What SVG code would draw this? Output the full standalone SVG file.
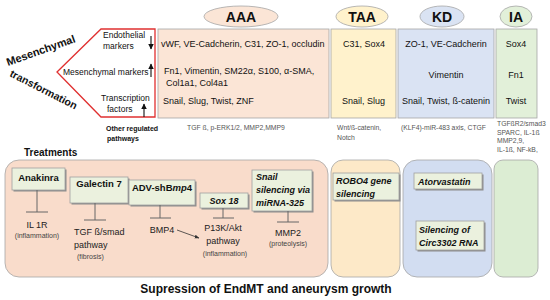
<svg xmlns="http://www.w3.org/2000/svg" width="550" height="300" viewBox="0 0 550 300">
<defs>
<style>
text{font-family:"Liberation Sans",Arial,sans-serif;fill:#111}
.c{font-size:9px}
.p{font-size:8.5px}
.s{font-size:6.8px;fill:#555}
.h{font-size:14px;font-weight:bold;text-anchor:middle}
.box{stroke:#a6a6a6;stroke-width:0.8}
.lb{font-size:9px;text-anchor:middle;fill:#222}
.sm{font-size:7px;text-anchor:middle;fill:#444}
.st{text-anchor:start}
.mid{text-anchor:middle}
.tb{fill:#ebf1de;stroke:#a0a0a0;stroke-width:0.8}
.sh{fill:#8c8c8c}
.tt{font-size:9.5px;font-weight:bold}
.it{font-size:9px;font-weight:bold;font-style:italic}
.bar{stroke:#666;stroke-width:1;fill:none}
.ar{stroke:#111;stroke-width:1.1;fill:none}
</style>
<marker id="ah" viewBox="0 0 10 10" refX="9" refY="5" markerWidth="5" markerHeight="5" orient="auto"><path d="M0,0L10,5L0,10z" fill="#111"/></marker>
<marker id="ah2" viewBox="0 0 10 10" refX="9" refY="5" markerWidth="6" markerHeight="6" orient="auto"><path d="M0,1L10,5L0,9z" fill="#333"/></marker>
</defs>

<g id="side-labels">
<text x="8" y="66" transform="rotate(-19.5 8 66)" style="font-size:11px;font-weight:bold">Mesenchymal</text>
<text x="9" y="76" transform="rotate(27 9 76)" style="font-size:10.5px;font-weight:bold">transformation</text>
</g>

<g id="pentagon">
<polygon points="57,72 101,29 155,29 155,117 101,117" fill="#fff" stroke="#e03030" stroke-width="1.3"/>
<text class="p" x="103" y="38">Endothelial</text>
<text class="p" x="103" y="49">markers</text>
<text class="p" x="63" y="75">Mesenchymal markers</text>
<text class="p" x="101" y="101">Transcription</text>
<text class="p" x="107" y="112">factors</text>
<line class="ar" x1="151" y1="36" x2="151" y2="49" marker-end="url(#ah)"/>
<line class="ar" x1="151" y1="77" x2="151" y2="64" marker-end="url(#ah)"/>
<line class="ar" x1="144" y1="117" x2="144" y2="104" marker-end="url(#ah)"/>
<text x="106" y="131" style="font-size:7px;font-weight:bold">Other regulated</text>
<text x="107" y="141" style="font-size:7px;font-weight:bold">pathways</text>
</g>

<g id="AAA">
<ellipse cx="241" cy="16.5" rx="37" ry="10.5" fill="#fbe5d6" stroke="#a6a6a6" stroke-width="0.8"/>
<text class="h" x="241" y="22">AAA</text>
<rect class="box" x="158" y="29" width="171" height="89" fill="#fbe5d6"/>
<text class="c" x="161" y="47">vWF, VE-Cadcherin, C31, ZO-1, occludin</text>
<text class="c" x="164" y="74">Fn1, Vimentin, SM22α, S100, α-SMA,</text>
<text class="c" x="166" y="86">Col1a1, Col4a1</text>
<text class="c" x="163" y="104">Snail, Slug, Twist, ZNF</text>
<text class="s" x="187" y="130">TGF ß, p-ERK1/2, MMP2,MMP9</text>
</g>

<g id="TAA">
<ellipse cx="362" cy="16.5" rx="26" ry="10.5" fill="#fff2cc" stroke="#a6a6a6" stroke-width="0.8"/>
<text class="h" x="362" y="22">TAA</text>
<rect class="box" x="331" y="29" width="65" height="89" fill="#fff2cc"/>
<text class="c" x="343" y="47">C31, Sox4</text>
<text class="c" x="342" y="104">Snail, Slug</text>
<text class="s" x="337" y="130">Wnt/ß-catenin,</text>
<text class="s" x="337" y="140">Notch</text>
</g>

<g id="KD">
<ellipse cx="442" cy="16.5" rx="22" ry="10.5" fill="#dae3f3" stroke="#a6a6a6" stroke-width="0.8"/>
<text class="h" x="442" y="22">KD</text>
<rect class="box" x="398" y="29" width="96" height="89" fill="#dae3f3"/>
<text class="c mid" x="446" y="47">ZO-1, VE-Cadcherin</text>
<text class="c mid" x="446" y="78">Vimentin</text>
<text class="c mid" x="446" y="104">Snail, Twist, ß-catenin</text>
<text class="s" x="401" y="130">(KLF4)-miR-483 axis, CTGF</text>
</g>

<g id="IA">
<ellipse cx="516" cy="16.5" rx="16" ry="10.5" fill="#e2f0d9" stroke="#a6a6a6" stroke-width="0.8"/>
<text class="h" x="516" y="22">IA</text>
<rect class="box" x="496" y="29" width="41" height="89" fill="#e2f0d9"/>
<text class="c mid" x="516" y="47">Sox4</text>
<text class="c mid" x="516" y="78">Fn1</text>
<text class="c mid" x="516" y="104">Twist</text>
<text class="s" x="497" y="126">TGFßR2/smad3</text>
<text class="s" x="497" y="134.5">SPARC, IL-1ß</text>
<text class="s" x="497" y="143">MMP2,9,</text>
<text class="s" x="497" y="151.5">IL-1ß, NF-kB,</text>
</g>

<g id="treatments">
<text x="24" y="156" style="font-size:10px;font-weight:bold">Treatments</text>
<rect class="box" x="5" y="160" width="323" height="117" rx="14" fill="#f9dccb"/>
<rect class="box" x="331" y="160" width="69" height="117" rx="12" fill="#fde9c8"/>
<rect class="box" x="403" y="160" width="89" height="117" rx="14" fill="#d2ddf1"/>
<rect class="box" x="494" y="160" width="44" height="117" rx="9" fill="#dcedd3"/>
</g>

<g id="anakinra">
<rect class="sh" x="13.5" y="169.5" width="53" height="22"/>
<rect class="tb" x="12" y="168" width="53" height="22"/>
<text class="tt mid" x="38.5" y="181">Anakinra</text>
<text class="lb" x="37" y="228">IL 1R</text>
<text class="sm" x="37" y="238">(inflammation)</text>
</g>

<g id="galectin">
<rect class="sh" x="71.5" y="178.5" width="58" height="26"/>
<rect class="tb" x="70" y="177" width="58" height="26"/>
<text class="tt mid" x="99" y="187">Galectin 7</text>
<text class="lb st" x="74" y="235">TGF ß/smad</text>
<text class="lb st" x="74" y="248">pathway</text>
<text class="sm st" x="77" y="259">(fibrosis)</text>
</g>

<g id="adv">
<rect class="sh" x="130.5" y="181.5" width="66" height="25"/>
<rect class="tb" x="129" y="180" width="66" height="25"/>
<text class="tt mid" x="162" y="191">ADV-shB<tspan font-style="italic">mp</tspan>4</text>
<text class="lb" x="162" y="233">BMP4</text>
</g>

<g id="sox18">
<rect class="sh" x="201.5" y="194.5" width="48" height="15"/>
<rect class="tb" x="200" y="193" width="48" height="15"/>
<text class="it mid" x="224" y="204">Sox 18</text>
<text class="lb" x="223" y="231">P13K/Akt</text>
<text class="lb" x="223" y="244">pathway</text>
<text class="sm" x="225" y="256">(inflammation)</text>
</g>

<g id="snail">
<rect class="sh" x="253.5" y="171.5" width="60" height="41"/>
<rect class="tb" x="252" y="170" width="60" height="41"/>
<text class="it" x="256" y="180">Snail</text>
<text class="it" x="256" y="193">silencing via</text>
<text class="it" x="256" y="206">miRNA-325</text>
<text class="lb" x="288" y="236">MMP2</text>
<text class="sm" x="288" y="246">(proteolysis)</text>
</g>

<g id="robo4">
<rect class="sh" x="334.5" y="174.5" width="66" height="27"/>
<rect class="tb" x="333" y="173" width="66" height="27"/>
<text class="it" x="336" y="184">ROBO4 gene</text>
<text class="it" x="336" y="197">silencing</text>
</g>

<g id="atorvastatin">
<rect class="sh" x="415.5" y="174.5" width="68" height="16"/>
<rect class="tb" x="414" y="173" width="68" height="16"/>
<text class="it" x="418" y="185">Atorvastatin</text>
</g>

<g id="circ3302">
<rect class="sh" x="417.5" y="222.5" width="68" height="29"/>
<rect class="tb" x="416" y="221" width="68" height="29"/>
<text class="it" x="419" y="233">Silencing of</text>
<text class="it" x="419" y="246">Circ3302 RNA</text>
</g>

<g id="connectors">
<path class="bar" d="M37,190V212M26,212H48"/>
<path class="bar" d="M95,203V220M84,220H106"/>
<path class="bar" d="M160,205V218M150,218H171"/>
<path class="bar" d="M223,208V218M213,218H234"/>
<path class="bar" d="M288,211V222M277,222H299"/>
<line x1="177" y1="230" x2="199" y2="238" stroke="#333" stroke-width="0.8" marker-end="url(#ah2)"/>
</g>

<text x="266" y="293" text-anchor="middle" style="font-size:12px;font-weight:bold">Supression of EndMT and aneurysm growth</text>
</svg>
